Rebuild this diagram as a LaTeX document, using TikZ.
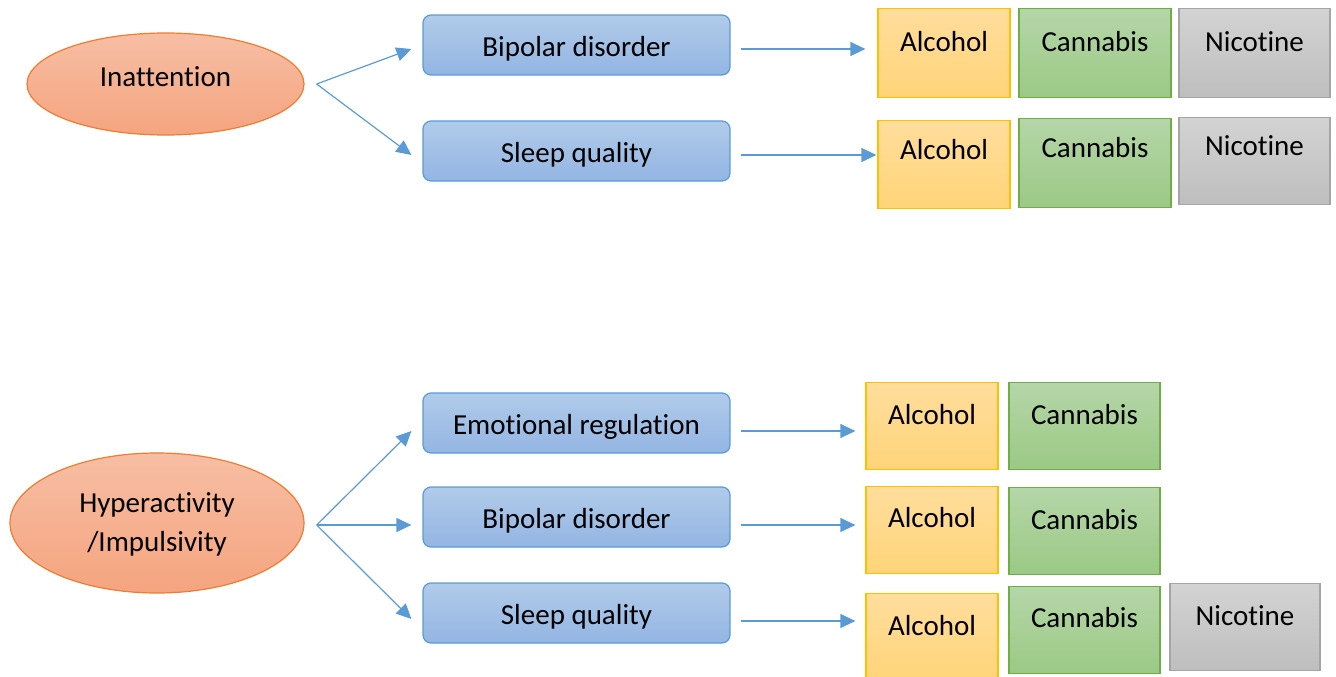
\documentclass[tikz,border=0pt]{standalone}
\usepackage{fontspec}
\setmainfont[Ligatures=NoCommon]{Carlito}
\usetikzlibrary{arrows.meta,shapes.geometric}
\definecolor{bluebd}{HTML}{5B9BD5}
\definecolor{bluetop}{HTML}{B1CBE9}
\definecolor{bluebot}{HTML}{93B5E3}
\definecolor{orbd}{HTML}{ED7D31}
\definecolor{ortop}{HTML}{F7BEA4}
\definecolor{orbot}{HTML}{F5A47F}
\definecolor{yebd}{HTML}{FFC000}
\definecolor{yetop}{HTML}{FFDD9C}
\definecolor{yebot}{HTML}{FFD479}
\definecolor{grbd}{HTML}{70AD47}
\definecolor{grtop}{HTML}{B5D6A8}
\definecolor{grbot}{HTML}{9BC985}
\definecolor{gybd}{HTML}{A5A5A5}
\definecolor{gytop}{HTML}{D3D3D3}
\definecolor{gybot}{HTML}{BEBEBE}
\definecolor{arrowc}{HTML}{5B9BD5}
\tikzset{
  mainbox/.style={draw=bluebd, line width=1.2pt, rounded corners=8pt,
    top color=bluetop, bottom color=bluebot, minimum width=307pt,
    minimum height=60pt, inner sep=0pt, text height=22.7pt, text depth=0pt},
  ellbox/.style={ellipse, draw=orbd, line width=1.2pt, top color=ortop,
    bottom color=orbot, inner sep=0pt},
  subbox/.style={anchor=north, line width=1.2pt, inner sep=0pt},
  alcbox/.style={subbox, draw=yebd, top color=yetop, bottom color=yebot},
  canbox/.style={subbox, draw=grbd, top color=grtop, bottom color=grbot},
  nicbox/.style={subbox, draw=gybd, top color=gytop, bottom color=gybot},
  arr/.style={draw=arrowc, line width=1.2pt, -{Triangle[length=15pt,width=14pt]}}
}
\begin{document}
\begin{tikzpicture}[x=1pt, y=-1pt, font=\fontsize{29}{39}\selectfont]
\useasboundingbox (0,0) rectangle (1336,677);
\clip (0,0) rectangle (1336,677);

% ---------- upper group ----------
\node[ellbox, minimum width=277pt, minimum height=102pt, text height=20pt, text depth=15.3pt] (ina) at (165.5,84) {Inattention};
\node[mainbox] (bip1) at (576.5,45) {Bipolar disorder};
\node[mainbox] (slp1) at (576.5,151) {Sleep quality};

\node[alcbox, minimum width=132pt, text height=43.3pt, text depth=45.7pt] (alc1) at (944,8) {Alcohol};
\node[canbox, minimum width=152pt, text height=43.3pt, text depth=45.7pt] (can1) at (1095,8) {Cannabis};
\node[nicbox, minimum width=151pt, text height=43.3pt, text depth=45.7pt] (nic1) at (1254.5,8) {Nicotine};

\node[alcbox, minimum width=132pt, text height=39.3pt, text depth=48.7pt] (alc2) at (944,120) {Alcohol};
\node[canbox, minimum width=152pt, text height=39.3pt, text depth=49.7pt] (can2) at (1095,118) {Cannabis};
\node[nicbox, minimum width=151pt, text height=38.3pt, text depth=48.7pt] (nic2) at (1254.5,117) {Nicotine};

\coordinate (f1) at ([xshift=12pt]ina.east);
\draw[arr] (f1) -- ([xshift=-11pt,yshift=-4pt]bip1.west);
\draw[arr] (f1) -- ([xshift=-11pt,yshift=-4pt]slp1.west);
\coordinate (h1) at ([xshift=10pt,yshift=-4pt]bip1.east);
\draw[arr, shorten >=12pt] (h1) -- (h1 -| alc1.west);
\coordinate (h2) at ([xshift=10pt,yshift=-4pt]slp1.east);
\draw[arr, shorten >=1pt] (h2) -- (h2 -| alc2.west);

% ---------- lower group ----------
\node[ellbox, minimum width=294pt, minimum height=140pt] (hyp) at (157,523) {};
\node[align=center, inner sep=0pt] (hyptxt) at ([yshift=-1pt]hyp.center) {Hyperactivity\\/Impulsivity};
\node[mainbox] (emo) at (576.5,423) {Emotional regulation};
\node[mainbox] (bip2) at (576.5,517) {Bipolar disorder};
\node[mainbox] (slp2) at (576.5,613) {Sleep quality};

\node[alcbox, minimum width=132pt, text height=42.3pt, text depth=44.7pt] (alc3) at (932,382) {Alcohol};
\node[canbox, minimum width=151pt, text height=42.3pt, text depth=44.7pt] (can3) at (1084.5,382) {Cannabis};

\node[alcbox, minimum width=132pt, text height=41.3pt, text depth=45.7pt] (alc4) at (932,486) {Alcohol};
\node[canbox, minimum width=151pt, text height=42.3pt, text depth=44.7pt] (can4) at (1084.5,487) {Cannabis};

\node[alcbox, minimum width=132pt, text height=42.3pt, text depth=45.7pt] (alc5) at (932,593) {Alcohol};
\node[canbox, minimum width=151pt, text height=41.3pt, text depth=45.7pt] (can5) at (1084.5,586) {Cannabis};
\node[nicbox, minimum width=150pt, text height=42.3pt, text depth=44.7pt] (nic5) at (1245,583) {Nicotine};

\coordinate (f2) at ([xshift=12pt,yshift=-2pt]hyp.east);
\draw[arr] (f2) -- ([xshift=-11pt,yshift=-8pt]emo.west);
\draw[arr] (f2) -- ([xshift=-11pt,yshift=-8pt]bip2.west);
\draw[arr] (f2) -- ([xshift=-11pt,yshift=-6pt]slp2.west);
\coordinate (h3) at ([xshift=10pt,yshift=-8pt]emo.east);
\draw[arr, shorten >=10pt] (h3) -- (h3 -| alc3.west);
\coordinate (h4) at ([xshift=10pt,yshift=-8pt]bip2.east);
\draw[arr, shorten >=10pt] (h4) -- (h4 -| alc4.west);
\coordinate (h5) at ([xshift=10pt,yshift=-8pt]slp2.east);
\draw[arr, shorten >=10pt] (h5) -- (h5 -| alc5.west);
\end{tikzpicture}
\end{document}
